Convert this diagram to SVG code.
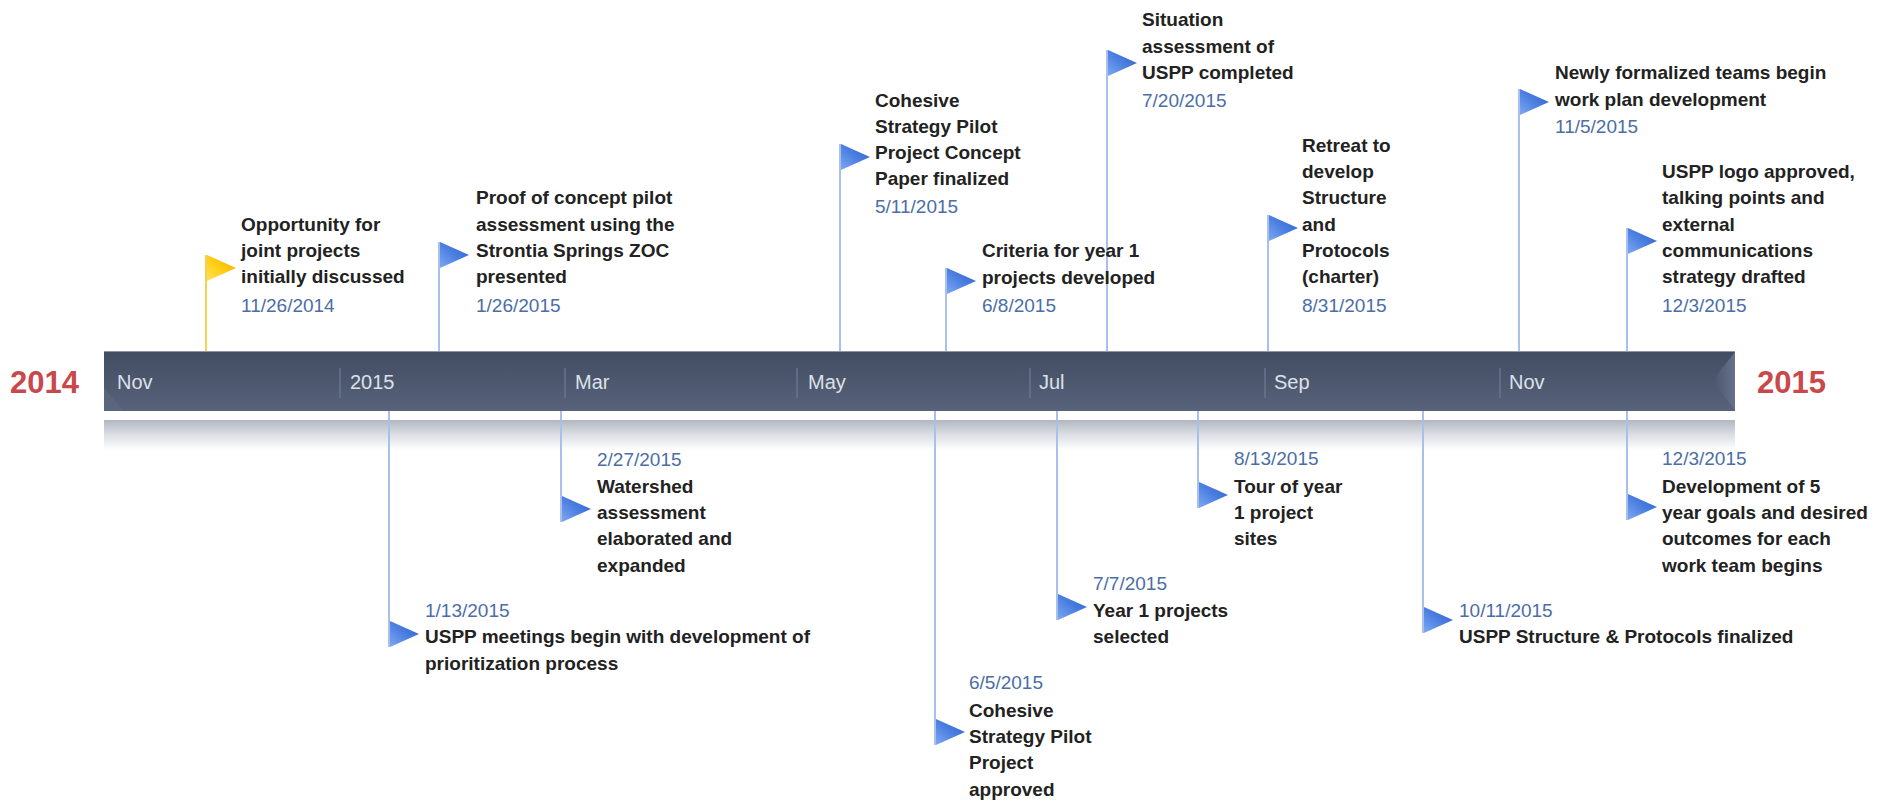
<svg xmlns="http://www.w3.org/2000/svg" width="1885" height="802" viewBox="0 0 1885 802">
<defs>
<linearGradient id="barG" x1="0" y1="0" x2="0" y2="1">
<stop offset="0" stop-color="#424c61"/>
<stop offset="1" stop-color="#57637b"/>
</linearGradient>
<linearGradient id="reflG" x1="0" y1="0" x2="0" y2="1">
<stop offset="0" stop-color="#b2b7c1"/>
<stop offset="0.5" stop-color="#dcdfe4"/>
<stop offset="1" stop-color="#ffffff"/>
</linearGradient>
<linearGradient id="bevR" x1="0" y1="0" x2="1" y2="0">
<stop offset="0" stop-color="#4a556d"/>
<stop offset="1" stop-color="#66728b"/>
</linearGradient>
<linearGradient id="flagB" x1="0" y1="1" x2="1" y2="0">
<stop offset="0" stop-color="#7ea8f2"/>
<stop offset="0.5" stop-color="#4a7ee0"/>
<stop offset="1" stop-color="#2c60c8"/>
</linearGradient>
<linearGradient id="flagY" x1="0" y1="1" x2="1" y2="0">
<stop offset="0" stop-color="#ffe25a"/>
<stop offset="0.5" stop-color="#ffcc10"/>
<stop offset="1" stop-color="#eea400"/>
</linearGradient>
<polygon id="flag" points="1,0 30,13 1,26"/>
</defs>
<style>
.lbl{font-family:"Liberation Sans",Arial,sans-serif;font-weight:bold;font-size:19px;fill:#222222}
.dt{font-family:"Liberation Sans",Arial,sans-serif;font-size:19px;fill:#4b6ea6}
.mo{font-family:"Liberation Sans",Arial,sans-serif;font-size:20px;fill:#dde1e8}
.yr{font-family:"Liberation Sans",Arial,sans-serif;font-weight:bold;font-size:31px;fill:#c9484b}
.pole{stroke:#a9c0ea;stroke-width:2;fill:none}
.poleY{stroke:#f7cf55;stroke-width:2;fill:none}
.sep{stroke:#69758d;stroke-width:1.5}
.fb{fill:url(#flagB)}
.fy{fill:url(#flagY)}
</style>
<rect width="1885" height="802" fill="#ffffff"/>

<g id="timeline-bar">
<rect x="104" y="420" width="1631" height="30" fill="url(#reflG)"/>
<rect x="104" y="351" width="1631" height="60" fill="url(#barG)"/>
<line x1="104" y1="351.5" x2="1735" y2="351.5" stroke="#8d96a6" stroke-width="1"/>
<polygon points="1735,352 1712,381 1735,410" fill="url(#bevR)"/>
<polygon points="104,388 104,411 124,411" fill="#5b6780" opacity="0.8"/>
<g class="sep">
<line x1="340" y1="368" x2="340" y2="398"/>
<line x1="565" y1="368" x2="565" y2="398"/>
<line x1="797" y1="368" x2="797" y2="398"/>
<line x1="1030" y1="368" x2="1030" y2="398"/>
<line x1="1265" y1="368" x2="1265" y2="398"/>
<line x1="1500" y1="368" x2="1500" y2="398"/>
</g>
<text class="mo" x="117" y="389">Nov</text>
<text class="mo" x="350" y="389">2015</text>
<text class="mo" x="575" y="389">Mar</text>
<text class="mo" x="808" y="389">May</text>
<text class="mo" x="1039" y="389">Jul</text>
<text class="mo" x="1274" y="389">Sep</text>
<text class="mo" x="1509" y="389">Nov</text>
<text class="yr" x="10" y="393">2014</text>
<text class="yr" x="1757" y="393">2015</text>
</g>

<g id="connectors">
<line class="poleY" x1="206" y1="255" x2="206" y2="351"/>
<line class="pole" x1="439" y1="242" x2="439" y2="351"/>
<line class="pole" x1="840" y1="144" x2="840" y2="351"/>
<line class="pole" x1="946" y1="268" x2="946" y2="351"/>
<line class="pole" x1="1107" y1="50" x2="1107" y2="351"/>
<line class="pole" x1="1268" y1="215" x2="1268" y2="351"/>
<line class="pole" x1="1519" y1="89" x2="1519" y2="351"/>
<line class="pole" x1="1627" y1="228" x2="1627" y2="351"/>
<line class="pole" x1="389" y1="411" x2="389" y2="647"/>
<line class="pole" x1="561" y1="411" x2="561" y2="522"/>
<line class="pole" x1="935" y1="411" x2="935" y2="745"/>
<line class="pole" x1="1057" y1="411" x2="1057" y2="620"/>
<line class="pole" x1="1198" y1="411" x2="1198" y2="508"/>
<line class="pole" x1="1423" y1="411" x2="1423" y2="633"/>
<line class="pole" x1="1627" y1="411" x2="1627" y2="520"/>
</g>

<g id="ev-20141126">
<use href="#flag" class="fy" x="206" y="255"/>
<text class="lbl" x="241" y="231">Opportunity for</text>
<text class="lbl" x="241" y="257">joint projects</text>
<text class="lbl" x="241" y="283">initially discussed</text>
<text class="dt" x="241" y="312">11/26/2014</text>
</g>

<g id="ev-20150126">
<use href="#flag" class="fb" x="439" y="242"/>
<text class="lbl" x="476" y="204">Proof of concept pilot</text>
<text class="lbl" x="476" y="231">assessment using the</text>
<text class="lbl" x="476" y="257">Strontia Springs ZOC</text>
<text class="lbl" x="476" y="283">presented</text>
<text class="dt" x="476" y="312">1/26/2015</text>
</g>

<g id="ev-20150511">
<use href="#flag" class="fb" x="840" y="144"/>
<text class="lbl" x="875" y="107">Cohesive</text>
<text class="lbl" x="875" y="133">Strategy Pilot</text>
<text class="lbl" x="875" y="159">Project Concept</text>
<text class="lbl" x="875" y="185">Paper finalized</text>
<text class="dt" x="875" y="213">5/11/2015</text>
</g>

<g id="ev-20150608">
<use href="#flag" class="fb" x="946" y="268"/>
<text class="lbl" x="982" y="257">Criteria for year 1</text>
<text class="lbl" x="982" y="284">projects developed</text>
<text class="dt" x="982" y="312">6/8/2015</text>
</g>

<g id="ev-20150720">
<use href="#flag" class="fb" x="1107" y="50"/>
<text class="lbl" x="1142" y="26">Situation</text>
<text class="lbl" x="1142" y="53">assessment of</text>
<text class="lbl" x="1142" y="79">USPP completed</text>
<text class="dt" x="1142" y="107">7/20/2015</text>
</g>

<g id="ev-20150831">
<use href="#flag" class="fb" x="1268" y="215"/>
<text class="lbl" x="1302" y="152">Retreat to</text>
<text class="lbl" x="1302" y="178">develop</text>
<text class="lbl" x="1302" y="204">Structure</text>
<text class="lbl" x="1302" y="231">and</text>
<text class="lbl" x="1302" y="257">Protocols</text>
<text class="lbl" x="1302" y="283">(charter)</text>
<text class="dt" x="1302" y="312">8/31/2015</text>
</g>

<g id="ev-20151105">
<use href="#flag" class="fb" x="1519" y="89"/>
<text class="lbl" x="1555" y="79">Newly formalized teams begin</text>
<text class="lbl" x="1555" y="106">work plan development</text>
<text class="dt" x="1555" y="133">11/5/2015</text>
</g>

<g id="ev-20151203a">
<use href="#flag" class="fb" x="1627" y="228"/>
<text class="lbl" x="1662" y="178">USPP logo approved,</text>
<text class="lbl" x="1662" y="204">talking points and</text>
<text class="lbl" x="1662" y="231">external</text>
<text class="lbl" x="1662" y="257">communications</text>
<text class="lbl" x="1662" y="283">strategy drafted</text>
<text class="dt" x="1662" y="312">12/3/2015</text>
</g>

<g id="ev-20150113">
<use href="#flag" class="fb" x="389" y="621"/>
<text class="dt" x="425" y="617">1/13/2015</text>
<text class="lbl" x="425" y="643">USPP meetings begin with development of</text>
<text class="lbl" x="425" y="670">prioritization process</text>
</g>

<g id="ev-20150227">
<use href="#flag" class="fb" x="561" y="496"/>
<text class="dt" x="597" y="466">2/27/2015</text>
<text class="lbl" x="597" y="493">Watershed</text>
<text class="lbl" x="597" y="519">assessment</text>
<text class="lbl" x="597" y="545">elaborated and</text>
<text class="lbl" x="597" y="572">expanded</text>
</g>

<g id="ev-20150605">
<use href="#flag" class="fb" x="935" y="719"/>
<text class="dt" x="969" y="689">6/5/2015</text>
<text class="lbl" x="969" y="717">Cohesive</text>
<text class="lbl" x="969" y="743">Strategy Pilot</text>
<text class="lbl" x="969" y="769">Project</text>
<text class="lbl" x="969" y="796">approved</text>
</g>

<g id="ev-20150707">
<use href="#flag" class="fb" x="1057" y="594"/>
<text class="dt" x="1093" y="590">7/7/2015</text>
<text class="lbl" x="1093" y="617">Year 1 projects</text>
<text class="lbl" x="1093" y="643">selected</text>
</g>

<g id="ev-20150813">
<use href="#flag" class="fb" x="1198" y="482"/>
<text class="dt" x="1234" y="465">8/13/2015</text>
<text class="lbl" x="1234" y="493">Tour of year</text>
<text class="lbl" x="1234" y="519">1 project</text>
<text class="lbl" x="1234" y="545">sites</text>
</g>

<g id="ev-20151011">
<use href="#flag" class="fb" x="1423" y="607"/>
<text class="dt" x="1459" y="617">10/11/2015</text>
<text class="lbl" x="1459" y="643">USPP Structure &amp; Protocols finalized</text>
</g>

<g id="ev-20151203b">
<use href="#flag" class="fb" x="1627" y="494"/>
<text class="dt" x="1662" y="465">12/3/2015</text>
<text class="lbl" x="1662" y="493">Development of 5</text>
<text class="lbl" x="1662" y="519">year goals and desired</text>
<text class="lbl" x="1662" y="545">outcomes for each</text>
<text class="lbl" x="1662" y="572">work team begins</text>
</g>
</svg>
